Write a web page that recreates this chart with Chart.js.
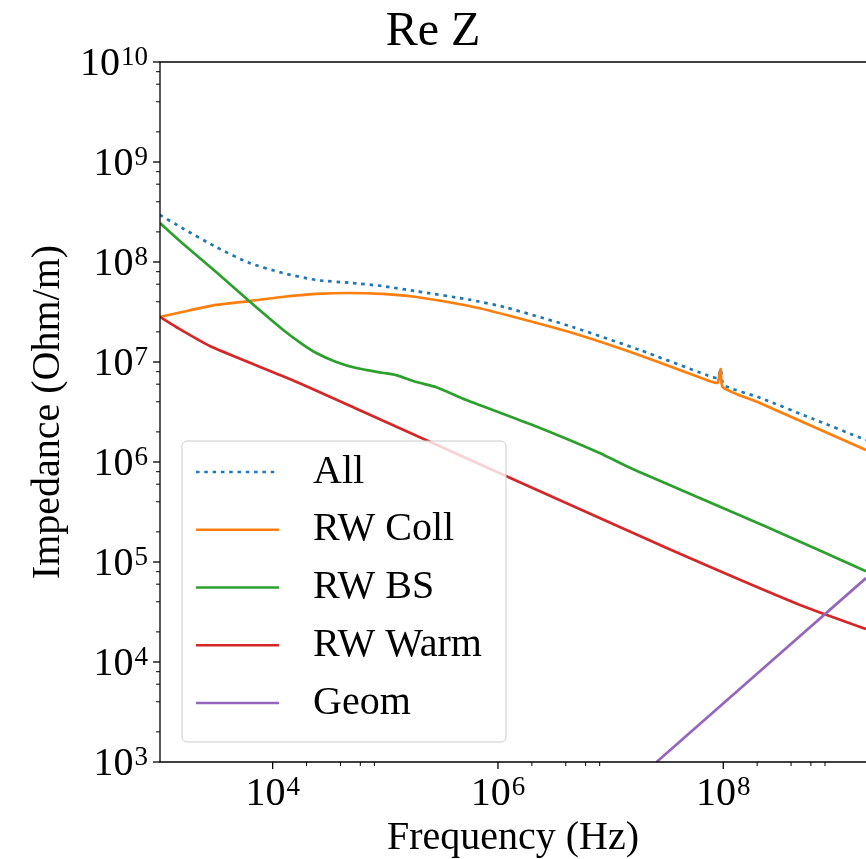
<!DOCTYPE html>
<html>
<head>
<meta charset="utf-8">
<script src="https://cdn.jsdelivr.net/npm/chart.js@4.4.1/dist/chart.umd.min.js"></script>
<style>
  html, body { margin: 0; padding: 0; background: #fff; }
</style>
</head>
<body>
<canvas id="chart" width="866" height="859"></canvas>
<script>
// Values: frequency in Hz, impedance in Ohm/m
const allFreq = [1.0e3, 1.57e3, 3.15e3, 6.18e3, 1.21e4, 2.44e4, 4.79e4, 9.4e4, 1.89e5, 5.58e5, 1.19e6, 4.6e6, 1.81e7, 7.13e7, 8.9e7, 9.5e7, 1.01e8, 2.11e8, 6.25e8, 1.85e9];
const allZ = [2.95e8, 2.19e8, 1.41e8, 9.8e7, 7.8e7, 6.6e7, 6.2e7, 5.75e7, 5.1e7, 4.2e7, 3.5e7, 2.24e7, 1.32e7, 7.4e6, 6.9e6, 8.5e6, 5.9e6, 4.4e6, 2.7e6, 1.66e6];

const collFreq = [1.0e3, 1.57e3, 3.15e3, 6.18e3, 1.21e4, 2.44e4, 4.79e4, 9.4e4, 1.89e5, 5.58e5, 1.19e6, 4.6e6, 1.81e7, 8.07e7, 8.9e7, 9.5e7, 9.9e7, 2.11e8, 6.25e8, 1.85e9];
const collZ = [2.82e7, 3.16e7, 3.72e7, 4.07e7, 4.47e7, 4.79e7, 4.9e7, 4.79e7, 4.47e7, 3.63e7, 2.95e7, 1.95e7, 1.17e7, 6.3e6, 6.2e6, 8.5e6, 5.6e6, 3.89e6, 2.26e6, 1.32e6];

const bsFreq = [1.0e3, 1.57e3, 3.15e3, 6.18e3, 1.21e4, 1.83e4, 2.44e4, 3.67e4, 5.52e4, 9.4e4, 1.25e5, 1.89e5, 2.84e5, 5.25e5, 2.03e6, 7.98e6, 1.57e7, 6.18e7, 2.44e8, 1.85e9];
const bsZ = [2.45e8, 1.55e8, 7.94e7, 4.07e7, 2.14e7, 1.51e7, 1.23e7, 1.0e7, 8.7e6, 7.8e6, 7.4e6, 6.3e6, 5.6e6, 4.17e6, 2.34e6, 1.23e6, 8.5e5, 4.37e5, 2.24e5, 8.1e4];

const warmFreq = [1.0e3, 1.39e3, 2.9e3, 1.49e4, 5.87e4, 2.03e6, 3.15e7, 4.79e8, 1.85e9];
const warmZ = [2.82e7, 2.24e7, 1.41e7, 6.6e6, 3.31e6, 5.5e5, 1.38e5, 3.72e4, 2.14e4];

const geomFreq = [2.56e7, 1.85e9];
const geomZ = [1.0e3, 6.9e4];

// Axis ticks
const xMin = 1e3, xMax = 1.85e9;
const yMin = 1e3, yMax = 1e10;
const xMajorExps = [4, 6, 8];
const yMajorExps = [3, 4, 5, 6, 7, 8, 9, 10];
const yMinorExps = [3, 4, 5, 6, 7, 8, 9];
const minorSubs = [2, 4, 6, 8];

function buildTicks(majorExps, minorExps, lo, hi) {
  const ticks = [];
  majorExps.forEach(e => ticks.push({ value: Math.pow(10, e), major: true, exp: e }));
  minorExps.forEach(e => minorSubs.forEach(s => ticks.push({ value: s * Math.pow(10, e), major: false })));
  return ticks.filter(t => t.value >= lo && t.value <= hi).sort((a, b) => a.value - b.value);
}

const toPoints = (xs, ys) => xs.map((x, i) => ({ x, y: ys[i] }));

const FONT = '"Liberation Serif", "DejaVu Serif", serif';
Chart.defaults.font.family = FONT;
Chart.defaults.color = '#000';

// "10" with a raised exponent, digits centred on cy
function drawPow(ctx, e, x, cy, align) {
  const big = 40, small = 27;
  ctx.font = big + 'px ' + FONT;
  const wb = ctx.measureText('10').width;
  ctx.font = small + 'px ' + FONT;
  const we = ctx.measureText(String(e)).width;
  const total = wb + 1 + we;
  const left = align === 'right' ? x - total : x - total / 2;
  const baseline = cy + big * 0.33;
  ctx.textAlign = 'left';
  ctx.textBaseline = 'alphabetic';
  ctx.font = big + 'px ' + FONT;
  ctx.fillText('10', left, baseline);
  ctx.font = small + 'px ' + FONT;
  ctx.fillText(String(e), left + wb + 1, baseline - 10.6);
}

// spines, tick marks (major long, minor short) and tick labels, matplotlib style
const axisLines = {
  id: 'axisLines',
  afterDraw(chart) {
    const { ctx, chartArea: a, scales: { x, y } } = chart;
    ctx.save();
    ctx.strokeStyle = '#000';
    ctx.fillStyle = '#000';
    ctx.lineWidth = 1.3;
    ctx.beginPath();
    ctx.moveTo(a.right + 1, a.top); ctx.lineTo(a.left, a.top);
    ctx.lineTo(a.left, a.bottom); ctx.lineTo(a.right + 1, a.bottom);
    ctx.stroke();
    x.ticks.forEach(t => {
      const px = x.getPixelForValue(t.value);
      ctx.lineWidth = t.major ? 1.3 : 1;
      ctx.beginPath(); ctx.moveTo(px, a.bottom); ctx.lineTo(px, a.bottom + (t.major ? 7 : 4)); ctx.stroke();
      if (t.major) drawPow(ctx, t.exp, px, a.bottom + 30, 'center');
    });
    y.ticks.forEach(t => {
      const py = y.getPixelForValue(t.value);
      ctx.lineWidth = t.major ? 1.3 : 1;
      ctx.beginPath(); ctx.moveTo(a.left, py); ctx.lineTo(a.left - (t.major ? 7 : 4), py); ctx.stroke();
      if (t.major) drawPow(ctx, t.exp, a.left - 12, py, 'right');
    });
    ctx.restore();
  }
};

// framed legend in the lower left corner of the axes
const boxLegend = {
  id: 'boxLegend',
  afterDatasetsDraw(chart) {
    const { ctx, chartArea: a } = chart;
    const w = 324, h = 301, rowH = 57.75;
    const left = a.left + 22, top = a.bottom - 20 - h;
    ctx.save();
    ctx.beginPath();
    ctx.roundRect(left, top, w, h, 5);
    ctx.fillStyle = 'rgba(255,255,255,0.8)';
    ctx.fill();
    ctx.strokeStyle = '#cccccc';
    ctx.lineWidth = 1;
    ctx.stroke();
    chart.data.datasets.forEach((ds, i) => {
      const yy = top + 31 + i * rowH;
      ctx.beginPath();
      ctx.setLineDash(ds.borderDash || []);
      ctx.lineCap = 'butt';
      ctx.strokeStyle = ds.borderColor;
      ctx.lineWidth = ds.borderWidth;
      ctx.moveTo(left + 14, yy);
      ctx.lineTo(left + 97, yy);
      ctx.stroke();
      ctx.setLineDash([]);
      ctx.fillStyle = '#000';
      ctx.font = '40px ' + FONT;
      ctx.textBaseline = 'middle';
      ctx.fillText(ds.label, left + 131, yy);
    });
    ctx.restore();
  }
};

const line = (label, xs, ys, color, order, extra) => Object.assign({
  label,
  data: toPoints(xs, ys),
  borderColor: color,
  backgroundColor: color,
  borderWidth: 2.7,
  pointRadius: 0,
  tension: 0.2,
  clip: 0,
  order
}, extra || {});

new Chart(document.getElementById('chart'), {
  type: 'line',
  data: {
    datasets: [
      line('All', allFreq, allZ, '#1f77b4', 5, { borderDash: [3.5, 4.8], borderCapStyle: 'butt' }),
      line('RW Coll', collFreq, collZ, '#ff7f0e', 4),
      line('RW BS', bsFreq, bsZ, '#2ca02c', 3),
      line('RW Warm', warmFreq, warmZ, '#d62728', 2),
      line('Geom', geomFreq, geomZ, '#9467bd', 1)
    ]
  },
  options: {
    responsive: false,
    animation: false,
    layout: { padding: 0 },
    plugins: {
      legend: { display: false },
      tooltip: { enabled: false },
      title: {
        display: true,
        text: 'Re Z',
        color: '#000',
        font: { size: 48, weight: 'normal', lineHeight: 1 },
        padding: { top: 8, bottom: 6 }
      }
    },
    scales: {
      x: {
        type: 'logarithmic',
        min: xMin,
        max: xMax,
        afterBuildTicks: s => { s.ticks = buildTicks(xMajorExps, xMajorExps, xMin, xMax); },
        afterFit: s => { s.height = 97; },
        grid: { display: false, drawTicks: false },
        border: { display: false },
        ticks: { display: false, autoSkip: false },
        title: {
          display: true,
          text: 'Frequency (Hz)',
          font: { size: 40, lineHeight: 1 },
          padding: { top: 0, bottom: 1 }
        }
      },
      y: {
        type: 'logarithmic',
        min: yMin,
        max: yMax,
        afterBuildTicks: s => { s.ticks = buildTicks(yMajorExps, yMinorExps, yMin, yMax); },
        afterFit: s => { s.width = 160; },
        grid: { display: false, drawTicks: false },
        border: { display: false },
        ticks: { display: false, autoSkip: false },
        title: {
          display: true,
          text: 'Impedance (Ohm/m)',
          font: { size: 40, lineHeight: 1 },
          padding: { top: 28, bottom: 0 }
        }
      }
    }
  },
  plugins: [boxLegend, axisLines]
});
</script>
</body>
</html>
